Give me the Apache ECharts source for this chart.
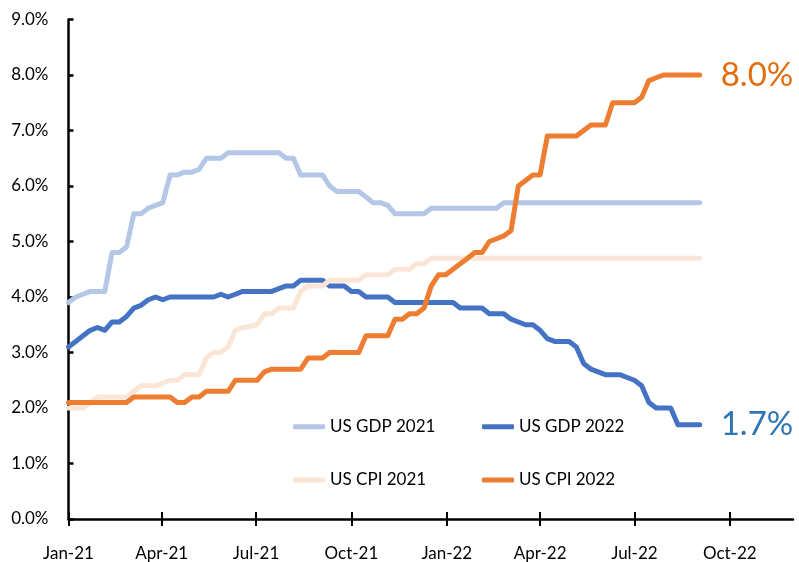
<!DOCTYPE html>
<html>
<head>
<meta charset="utf-8">
<script src="https://cdn.jsdelivr.net/npm/echarts@6/dist/echarts.min.js"></script>
<style>
    html, body { margin: 0; padding: 0; background: #fff; }
    #main { width: 799px; height: 562px; }
</style>
</head>
<body>
<div id="main"></div>
<script>
// weekly observations (Fridays)
const dates = [
    '2021-01-01', '2021-01-08', '2021-01-15', '2021-01-22', '2021-01-29', '2021-02-05', '2021-02-12', '2021-02-19', '2021-02-26',
    '2021-03-05', '2021-03-12', '2021-03-19', '2021-03-26', '2021-04-02', '2021-04-09', '2021-04-16', '2021-04-23', '2021-04-30',
    '2021-05-07', '2021-05-14', '2021-05-21', '2021-05-28', '2021-06-04', '2021-06-11', '2021-06-18', '2021-06-25',
    '2021-07-02', '2021-07-09', '2021-07-16', '2021-07-23', '2021-07-30', '2021-08-06', '2021-08-13', '2021-08-20', '2021-08-27',
    '2021-09-03', '2021-09-10', '2021-09-17', '2021-09-24', '2021-10-01', '2021-10-08', '2021-10-15', '2021-10-22', '2021-10-29',
    '2021-11-05', '2021-11-12', '2021-11-19', '2021-11-26', '2021-12-03', '2021-12-10', '2021-12-17', '2021-12-24', '2021-12-31',
    '2022-01-07', '2022-01-14', '2022-01-21', '2022-01-28', '2022-02-04', '2022-02-11', '2022-02-18', '2022-02-25',
    '2022-03-04', '2022-03-11', '2022-03-18', '2022-03-25', '2022-04-01', '2022-04-08', '2022-04-15', '2022-04-22', '2022-04-29',
    '2022-05-06', '2022-05-13', '2022-05-20', '2022-05-27', '2022-06-03', '2022-06-10', '2022-06-17', '2022-06-24',
    '2022-07-01', '2022-07-08', '2022-07-15', '2022-07-22', '2022-07-29', '2022-08-05', '2022-08-12', '2022-08-19', '2022-08-26',
    '2022-09-02'
];
const gdp2021 = [
    3.9, 4.0, 4.05, 4.1, 4.1, 4.1, 4.8, 4.8, 4.9, 5.5,
    5.5, 5.6, 5.65, 5.7, 6.2, 6.2, 6.25, 6.25, 6.3, 6.5,
    6.5, 6.5, 6.6, 6.6, 6.6, 6.6, 6.6, 6.6, 6.6, 6.6,
    6.5, 6.5, 6.2, 6.2, 6.2, 6.2, 6.0, 5.9, 5.9, 5.9,
    5.9, 5.8, 5.7, 5.7, 5.65, 5.5, 5.5, 5.5, 5.5, 5.5,
    5.6, 5.6, 5.6, 5.6, 5.6, 5.6, 5.6, 5.6, 5.6, 5.6,
    5.7, 5.7, 5.7, 5.7, 5.7, 5.7, 5.7, 5.7, 5.7, 5.7,
    5.7, 5.7, 5.7, 5.7, 5.7, 5.7, 5.7, 5.7, 5.7, 5.7,
    5.7, 5.7, 5.7, 5.7, 5.7, 5.7, 5.7, 5.7
];
const gdp2022 = [
    3.1, 3.2, 3.3, 3.4, 3.45, 3.4, 3.55, 3.55, 3.65, 3.8,
    3.85, 3.95, 4.0, 3.95, 4.0, 4.0, 4.0, 4.0, 4.0, 4.0,
    4.0, 4.05, 4.0, 4.05, 4.1, 4.1, 4.1, 4.1, 4.1, 4.15,
    4.2, 4.2, 4.3, 4.3, 4.3, 4.3, 4.2, 4.2, 4.2, 4.1,
    4.1, 4.0, 4.0, 4.0, 4.0, 3.9, 3.9, 3.9, 3.9, 3.9,
    3.9, 3.9, 3.9, 3.9, 3.8, 3.8, 3.8, 3.8, 3.7, 3.7,
    3.7, 3.6, 3.55, 3.5, 3.5, 3.4, 3.25, 3.2, 3.2, 3.2,
    3.1, 2.8, 2.7, 2.65, 2.6, 2.6, 2.6, 2.55, 2.5, 2.4,
    2.1, 2.0, 2.0, 2.0, 1.7, 1.7, 1.7, 1.7
];
const cpi2021 = [
    2.0, 2.0, 2.0, 2.1, 2.2, 2.2, 2.2, 2.2, 2.2, 2.3,
    2.4, 2.4, 2.4, 2.45, 2.5, 2.5, 2.6, 2.6, 2.6, 2.9,
    3.0, 3.0, 3.1, 3.4, 3.45, 3.47, 3.5, 3.7, 3.7, 3.8,
    3.8, 3.8, 4.1, 4.2, 4.2, 4.2, 4.3, 4.3, 4.3, 4.3,
    4.3, 4.4, 4.4, 4.4, 4.4, 4.5, 4.5, 4.5, 4.6, 4.6,
    4.7, 4.7, 4.7, 4.7, 4.7, 4.7, 4.7, 4.7, 4.7, 4.7,
    4.7, 4.7, 4.7, 4.7, 4.7, 4.7, 4.7, 4.7, 4.7, 4.7,
    4.7, 4.7, 4.7, 4.7, 4.7, 4.7, 4.7, 4.7, 4.7, 4.7,
    4.7, 4.7, 4.7, 4.7, 4.7, 4.7, 4.7, 4.7
];
const cpi2022 = [
    2.1, 2.1, 2.1, 2.1, 2.1, 2.1, 2.1, 2.1, 2.1, 2.2,
    2.2, 2.2, 2.2, 2.2, 2.2, 2.1, 2.1, 2.2, 2.2, 2.3,
    2.3, 2.3, 2.3, 2.5, 2.5, 2.5, 2.5, 2.65, 2.7, 2.7,
    2.7, 2.7, 2.7, 2.9, 2.9, 2.9, 3.0, 3.0, 3.0, 3.0,
    3.0, 3.3, 3.3, 3.3, 3.3, 3.6, 3.6, 3.7, 3.7, 3.8,
    4.2, 4.4, 4.4, 4.5, 4.6, 4.7, 4.8, 4.8, 5.0, 5.05,
    5.1, 5.2, 6.0, 6.1, 6.2, 6.2, 6.9, 6.9, 6.9, 6.9,
    6.9, 7.0, 7.1, 7.1, 7.1, 7.5, 7.5, 7.5, 7.5, 7.6,
    7.9, 7.95, 8.0, 8.0, 8.0, 8.0, 8.0, 8.0
];
const xTickDates = ['2021-01-01', '2021-04-01', '2021-07-01', '2021-10-01', '2022-01-01', '2022-04-01', '2022-07-01', '2022-10-01'];
const xTickLabels = ['Jan-21', 'Apr-21', 'Jul-21', 'Oct-21', 'Jan-22', 'Apr-22', 'Jul-22', 'Oct-22'];
const yTickLabels = ['0.0%', '1.0%', '2.0%', '3.0%', '4.0%', '5.0%', '6.0%', '7.0%', '8.0%', '9.0%'];

const FONT = "Lato, 'Noto Sans', sans-serif";
// x is measured in days since the axis start
const START = '2021-01-01';
const END = '2022-12-01';
const toDay = (s) => (Date.parse(s + 'T00:00:00Z') - Date.parse(START + 'T00:00:00Z')) / 86400000;
const xTicks = xTickDates.map(toDay);

const pairs = (vals) => vals.map((v, i) => [toDay(dates[i]), v]);

const dom = document.getElementById('main');
const myChart = echarts.init(dom, null, { renderer: 'canvas' });

const lineSeries = (name, vals, color, label) => {
    const s = {
        name: name,
        type: 'line',
        data: pairs(vals),
        showSymbol: false,
        symbol: 'none',
        lineStyle: { color: color, width: 5, cap: 'round', join: 'round' },
        itemStyle: { color: color }
    };
    if (label) {
        s.endLabel = {
            show: true,
            distance: 21,
            color: label,
            fontSize: 33,
            fontWeight: 'normal',
            fontFamily: FONT,
            formatter: (p) => p.value[1].toFixed(1) + '%'
        };
    }
    return s;
};

const legendItem = (name, left, top) => ({
    data: [name],
    left: left,
    top: top,
    padding: 0,
    icon: 'roundRect',
    itemWidth: 32,
    itemHeight: 5,
    textStyle: { fontSize: 17, fontFamily: FONT, color: '#000', lineHeight: 20 }
});

const option = {
    animation: false,
    grid: { left: 68.5, right: 6, top: 19.5, bottom: 42.7, containLabel: false },
    legend: [
        legendItem('US GDP 2021', 293, 416.7),
        legendItem('US GDP 2022', 482, 416.7),
        legendItem('US CPI 2021', 293, 470),
        legendItem('US CPI 2022', 482, 470)
    ],
    xAxis: [
        {
            type: 'value',
            min: 0,
            max: toDay(END),
            axisLine: { lineStyle: { color: '#000', width: 2.5 } },
            axisTick: { show: true, inside: true, length: 7, customValues: xTicks, lineStyle: { color: '#000', width: 2 } },
            axisLabel: {
                customValues: xTicks,
                margin: 26,
                color: '#000',
                fontSize: 17,
                fontFamily: FONT,
                formatter: (v) => {
                    const k = xTicks.indexOf(v);
                    return k >= 0 ? xTickLabels[k] : '';
                }
            },
            splitLine: { show: false }
        },
        {
            type: 'value',
            min: 0,
            max: toDay(END),
            position: 'bottom',
            axisLine: { show: false },
            axisTick: { show: true, inside: false, length: 7, customValues: xTicks, lineStyle: { color: '#000', width: 2 } },
            axisLabel: { show: false },
            splitLine: { show: false }
        }
    ],
    yAxis: {
        type: 'value',
        min: 0,
        max: 9,
        interval: 1,
        axisLine: { show: true, lineStyle: { color: '#000', width: 2.5 } },
        axisTick: { show: true, inside: true, length: 5, lineStyle: { color: '#000', width: 2.5 } },
        axisLabel: {
            margin: 20,
            color: '#000',
            fontSize: 17,
            fontFamily: FONT,
            formatter: (v) => yTickLabels[Math.round(v)]
        },
        splitLine: { show: false }
    },
    series: [
        lineSeries('US GDP 2021', gdp2021, '#b4c7e7'),
        lineSeries('US GDP 2022', gdp2022, '#4472c4', '#2e75b6'),
        lineSeries('US CPI 2021', cpi2021, '#fbe5d6'),
        lineSeries('US CPI 2022', cpi2022, '#ed7d31', '#e46c0a')
    ]
};
myChart.setOption(option);
</script>
</body>
</html>
